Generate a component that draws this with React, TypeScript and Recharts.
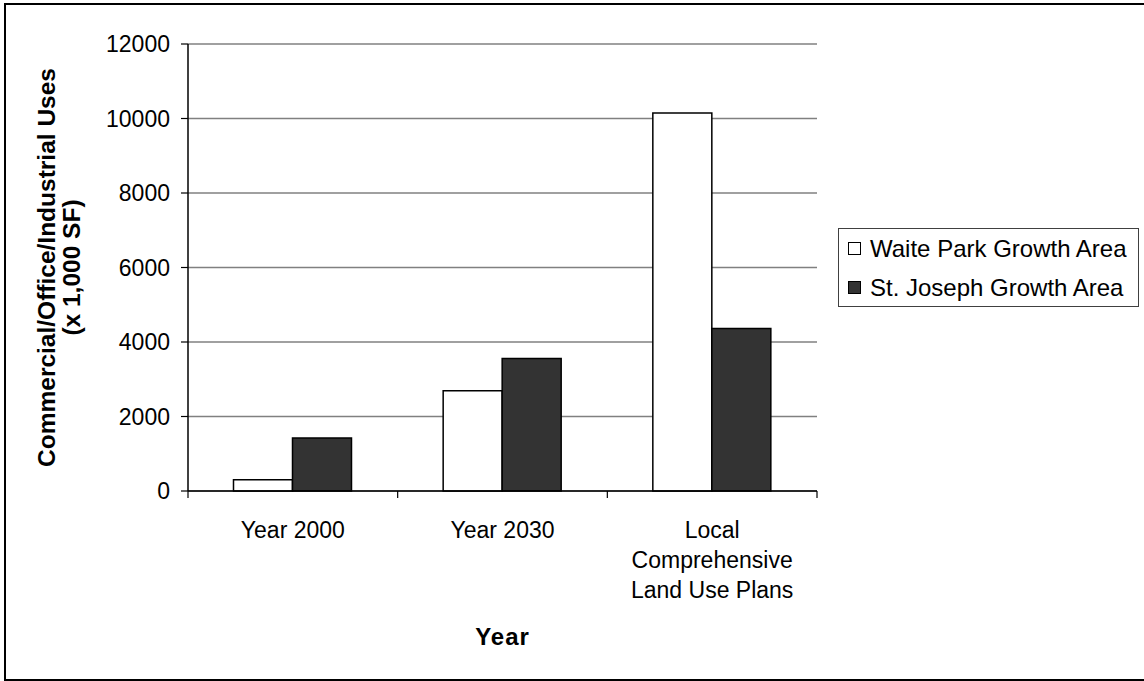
import React from "react";
import {
  BarChart,
  Bar,
  XAxis,
  YAxis,
  CartesianGrid,
  Legend,
} from "recharts";

const categories = ["Year 2000", "Year 2030", "Local\nComprehensive\nLand Use Plans"];
const waitePark = [300, 2690, 10150];
const stJoseph = [1420, 3560, 4360];
const yTicks = [0, 2000, 4000, 6000, 8000, 10000, 12000];
const seriesNames = ["Waite Park Growth Area", "St. Joseph Growth Area"];
const seriesFills = ["#ffffff", "#333333"];

const data = categories.map((c, i) => ({
  name: c,
  waite: waitePark[i],
  stjoseph: stJoseph[i],
}));

const FONT = "'Liberation Sans', Arial, sans-serif";
const W = 1144;
const H = 681;
const M = { top: 44, right: 327, left: 98, bottom: 40 };
const YW = 90;
const XH = 150;
const plotW = W - M.left - M.right - YW;

const XTick = (props: any) => {
  const { x, y, payload, index } = props;
  const half = payload && typeof payload.offset === "number" && payload.offset > 0
    ? payload.offset
    : plotW / categories.length / 2;
  const lines = String(payload.value).split("\n");
  return (
    <g>
      <line x1={x - half} y1={y} x2={x - half} y2={y + 7} stroke="#000" strokeWidth={1.2} />
      {index === categories.length - 1 && (
        <line x1={x + half} y1={y} x2={x + half} y2={y + 7} stroke="#000" strokeWidth={1.2} />
      )}
      <text textAnchor="middle" fontFamily={FONT} fontSize={23} fill="#000">
        {lines.map((l, i) => (
          <tspan key={i} x={x} y={y + 47 + i * 30}>
            {l}
          </tspan>
        ))}
      </text>
    </g>
  );
};

const YTitle = (props: any) => {
  const cy = M.top + (H - M.top - M.bottom - XH) / 2;
  return (
    <g>
      <text
        transform={`translate(55, ${cy}) rotate(-90)`}
        textAnchor="middle"
        fontFamily={FONT}
        fontSize={24.5}
        fontWeight="bold"
        fill="#000"
      >
        Commercial/Office/Industrial Uses
      </text>
      <text
        transform={`translate(80, ${cy}) rotate(-90)`}
        textAnchor="middle"
        fontFamily={FONT}
        fontSize={24.5}
        fontWeight="bold"
        fill="#000"
      >
        (x 1,000 SF)
      </text>
    </g>
  );
};

const XTitle = (props: any) => {
  const cx = M.left + YW + plotW / 2;
  return (
    <text x={cx} y={645} textAnchor="middle" fontFamily={FONT} fontSize={24} fontWeight="bold" letterSpacing={1} fill="#000">
      Year
    </text>
  );
};

const LegendBox = () => (
  <div
    style={{
      width: 299,
      height: 77,
      border: "1px solid #404040",
      background: "#fff",
      fontFamily: FONT,
      fontSize: 24,
      color: "#000",
      boxSizing: "content-box",
    }}
  >
    {seriesNames.map((n, i) => (
      <div
        key={n}
        style={{ display: "flex", alignItems: "center", height: 39, paddingLeft: 9 }}
      >
        <div
          style={{
            width: 11,
            height: 11,
            border: "1px solid #000",
            background: seriesFills[i],
            marginRight: 9,
            flex: "none",
          }}
        />
        <span style={{ whiteSpace: "nowrap", lineHeight: "24px" }}>{n}</span>
      </div>
    ))}
  </div>
);

export default function App() {
  return (
    <div style={{ position: "absolute", left: 0, top: 0, width: W, height: H, overflow: "hidden", background: "#fff" }}>
      <div
        style={{
          position: "absolute",
          left: 4,
          top: 3,
          width: 1200,
          height: 674,
          borderTop: "2px solid #000",
          borderLeft: "2px solid #000",
          borderBottom: "2px solid #000",
        }}
      />
      <div style={{ position: "absolute", left: 0, top: 0 }}>
        <BarChart
          width={W}
          height={H}
          data={data}
          margin={M}
          barCategoryGap="21.7%"
          barGap={0}
        >
          <CartesianGrid horizontal vertical={false} stroke="#808080" strokeWidth={1.5} />
          <XAxis
            dataKey="name"
            height={XH}
            tickLine={false}
            tickSize={0}
            tickMargin={0}
            tick={<XTick />}
            axisLine={{ stroke: "#000", strokeWidth: 1.5 }}
            interval={0}
            label={{ content: <XTitle /> }}
          />
          <XAxis xAxisId="top" orientation="top" dataKey="name" height={0} tick={false} tickLine={false} axisLine={{ stroke: "#000", strokeWidth: 1.5 }} />
          <YAxis
            width={YW}
            domain={[0, 12000]}
            ticks={yTicks}
            interval={0}
            tickSize={7}
            tickMargin={11}
            tick={{ fontFamily: FONT, fontSize: 23, fill: "#000" }}
            tickLine={{ stroke: "#000", strokeWidth: 1.2 }}
            axisLine={{ stroke: "#000", strokeWidth: 1.5 }}
            label={{ content: <YTitle /> }}
          />
          <YAxis yAxisId="right" orientation="right" width={0} tick={false} tickLine={false} axisLine={{ stroke: "#000", strokeWidth: 1.5 }} />
          <Legend
            layout="horizontal"
            verticalAlign="middle"
            align="center"
            content={<LegendBox />}
            wrapperStyle={{ position: "absolute", left: 838, top: 228, width: 301, height: 79, margin: 0 }}
          />
          <Bar dataKey="waite" name={seriesNames[0]} fill={seriesFills[0]} stroke="#000" strokeWidth={1.5} isAnimationActive={false} />
          <Bar dataKey="stjoseph" name={seriesNames[1]} fill={seriesFills[1]} stroke="#000" strokeWidth={1.5} isAnimationActive={false} />
        </BarChart>
      </div>
    </div>
  );
}
